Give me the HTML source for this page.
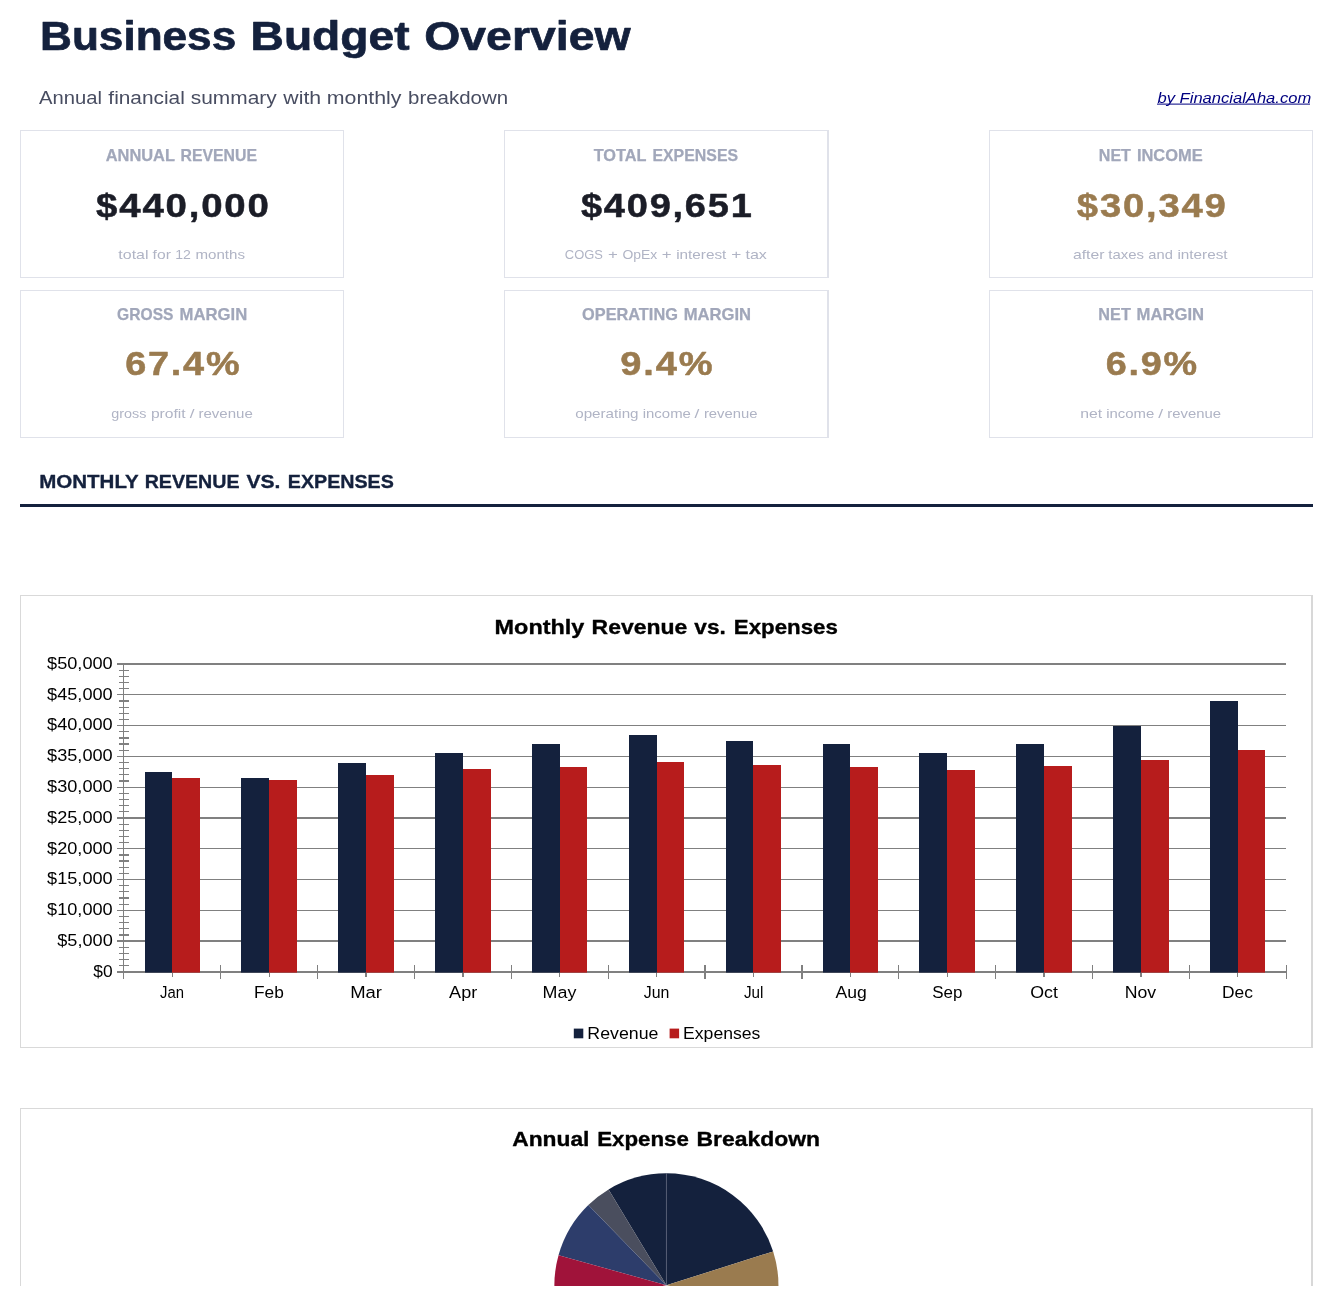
<!DOCTYPE html>
<html lang="en"><head><meta charset="utf-8"><title>Business Budget Overview</title>
<style>
html,body{margin:0;padding:0;background:#fff;}
body{width:1333px;height:1306px;overflow:hidden;position:relative;font-family:"Liberation Sans", sans-serif;}
.card{position:absolute;box-sizing:border-box;border:1px solid #e0e2ea;background:#fff;}
.card.thick{border-right-width:2px;}
.rule{position:absolute;left:20px;top:504px;width:1293px;height:3px;background:#14213d;}
.frame{position:absolute;box-sizing:border-box;border:1px solid #d9d9d9;border-right:2px solid #d8d8d8;background:#fff;}
svg{position:absolute;left:0;top:0;will-change:transform;}
svg text{font-family:"Liberation Sans", sans-serif;white-space:pre;}
</style></head><body>
<div class="card" style="left:20px;top:130px;width:324px;height:148px"></div>
<div class="card thick" style="left:504px;top:130px;width:325px;height:148px"></div>
<div class="card" style="left:989px;top:130px;width:324px;height:148px"></div>
<div class="card" style="left:20px;top:290px;width:324px;height:148px"></div>
<div class="card thick" style="left:504px;top:290px;width:325px;height:148px"></div>
<div class="card" style="left:989px;top:290px;width:324px;height:148px"></div>
<div class="rule"></div>
<div class="frame" style="left:20px;top:595px;width:1293px;height:453px"></div>
<div class="frame" style="left:20px;top:1108px;width:1293px;height:178px;border-bottom:none"></div>
<svg width="1333" height="1306" viewBox="0 0 1333 1306">
<g fill="#808080" shape-rendering="crispEdges">
<rect x="117" y="663" width="1169" height="2"/>
<rect x="119" y="670" width="10" height="1"/>
<rect x="119" y="676" width="10" height="1"/>
<rect x="119" y="682" width="10" height="1"/>
<rect x="119" y="688" width="10" height="1"/>
<rect x="117" y="694" width="1169" height="1"/>
<rect x="119" y="700" width="10" height="2"/>
<rect x="119" y="707" width="10" height="1"/>
<rect x="119" y="713" width="10" height="1"/>
<rect x="119" y="719" width="10" height="1"/>
<rect x="117" y="725" width="1169" height="1"/>
<rect x="119" y="731" width="10" height="1"/>
<rect x="119" y="737" width="10" height="2"/>
<rect x="119" y="743" width="10" height="2"/>
<rect x="119" y="750" width="10" height="1"/>
<rect x="117" y="756" width="1169" height="1"/>
<rect x="119" y="762" width="10" height="1"/>
<rect x="119" y="768" width="10" height="1"/>
<rect x="119" y="774" width="10" height="1"/>
<rect x="119" y="780" width="10" height="2"/>
<rect x="117" y="787" width="1169" height="1"/>
<rect x="119" y="793" width="10" height="1"/>
<rect x="119" y="799" width="10" height="1"/>
<rect x="119" y="805" width="10" height="1"/>
<rect x="119" y="811" width="10" height="1"/>
<rect x="117" y="817" width="1169" height="2"/>
<rect x="119" y="824" width="10" height="1"/>
<rect x="119" y="830" width="10" height="1"/>
<rect x="119" y="836" width="10" height="1"/>
<rect x="119" y="842" width="10" height="1"/>
<rect x="117" y="848" width="1169" height="1"/>
<rect x="119" y="854" width="10" height="2"/>
<rect x="119" y="860" width="10" height="2"/>
<rect x="119" y="867" width="10" height="1"/>
<rect x="119" y="873" width="10" height="1"/>
<rect x="117" y="879" width="1169" height="1"/>
<rect x="119" y="885" width="10" height="1"/>
<rect x="119" y="891" width="10" height="1"/>
<rect x="119" y="897" width="10" height="2"/>
<rect x="119" y="904" width="10" height="1"/>
<rect x="117" y="910" width="1169" height="1"/>
<rect x="119" y="916" width="10" height="1"/>
<rect x="119" y="922" width="10" height="1"/>
<rect x="119" y="928" width="10" height="1"/>
<rect x="119" y="934" width="10" height="2"/>
<rect x="117" y="940" width="1169" height="2"/>
<rect x="119" y="947" width="10" height="1"/>
<rect x="119" y="953" width="10" height="1"/>
<rect x="119" y="959" width="10" height="1"/>
<rect x="119" y="965" width="10" height="1"/>
<rect x="117" y="971" width="1169" height="2"/>
<rect x="123" y="663" width="1" height="316"/>
<rect x="220" y="965" width="1" height="14"/>
<rect x="317" y="965" width="1" height="14"/>
<rect x="414" y="965" width="1" height="14"/>
<rect x="511" y="965" width="1" height="14"/>
<rect x="608" y="965" width="1" height="14"/>
<rect x="704" y="965" width="2" height="14"/>
<rect x="801" y="965" width="2" height="14"/>
<rect x="898" y="965" width="1" height="14"/>
<rect x="995" y="965" width="1" height="14"/>
<rect x="1092" y="965" width="1" height="14"/>
<rect x="1189" y="965" width="1" height="14"/>
<rect x="1286" y="965" width="1" height="14"/>
<rect x="172" y="973" width="1" height="4"/>
<rect x="269" y="973" width="1" height="4"/>
<rect x="365" y="973" width="2" height="4"/>
<rect x="462" y="973" width="2" height="4"/>
<rect x="559" y="973" width="1" height="4"/>
<rect x="656" y="973" width="1" height="4"/>
<rect x="753" y="973" width="1" height="4"/>
<rect x="850" y="973" width="1" height="4"/>
<rect x="947" y="973" width="1" height="4"/>
<rect x="1043" y="973" width="2" height="4"/>
<rect x="1140" y="973" width="2" height="4"/>
<rect x="1237" y="973" width="1" height="4"/>
</g>
<g>
<rect x="145" y="772" width="27" height="200.6" fill="#14213d"/>
<rect x="172" y="778" width="28" height="194.6" fill="#b71c1c"/>
<rect x="241" y="778" width="28" height="194.6" fill="#14213d"/>
<rect x="269" y="780" width="28" height="192.6" fill="#b71c1c"/>
<rect x="338" y="763" width="28" height="209.6" fill="#14213d"/>
<rect x="366" y="775" width="28" height="197.6" fill="#b71c1c"/>
<rect x="435" y="753" width="28" height="219.6" fill="#14213d"/>
<rect x="463" y="769" width="28" height="203.6" fill="#b71c1c"/>
<rect x="532" y="744" width="28" height="228.6" fill="#14213d"/>
<rect x="560" y="767" width="27" height="205.6" fill="#b71c1c"/>
<rect x="629" y="735" width="28" height="237.6" fill="#14213d"/>
<rect x="657" y="762" width="27" height="210.6" fill="#b71c1c"/>
<rect x="726" y="741" width="27" height="231.6" fill="#14213d"/>
<rect x="753" y="765" width="28" height="207.6" fill="#b71c1c"/>
<rect x="823" y="744" width="27" height="228.6" fill="#14213d"/>
<rect x="850" y="767" width="28" height="205.6" fill="#b71c1c"/>
<rect x="919" y="753" width="28" height="219.6" fill="#14213d"/>
<rect x="947" y="770" width="28" height="202.6" fill="#b71c1c"/>
<rect x="1016" y="744" width="28" height="228.6" fill="#14213d"/>
<rect x="1044" y="766" width="28" height="206.6" fill="#b71c1c"/>
<rect x="1113" y="726" width="28" height="246.6" fill="#14213d"/>
<rect x="1141" y="760" width="28" height="212.6" fill="#b71c1c"/>
<rect x="1210" y="701" width="28" height="271.6" fill="#14213d"/>
<rect x="1238" y="750" width="27" height="222.6" fill="#b71c1c"/>
</g>
<rect x="573.8" y="1028.6" width="9.5" height="9.7" fill="#14213d"/>
<rect x="669.6" y="1028.6" width="9.5" height="9.7" fill="#b71c1c"/>
<clipPath id="pc"><rect x="500" y="1150" width="340" height="136"/></clipPath><g clip-path="url(#pc)">
<path d="M666.4,1285.3 L666.40,1173.30 A112.0,112.0 0 0 1 773.16,1251.43 Z" fill="#14213d"/>
<path d="M666.4,1285.3 L773.16,1251.43 A112.0,112.0 0 0 1 776.70,1304.75 Z" fill="#9a7b4f"/>
<path d="M666.4,1285.3 L608.55,1189.40 A112.0,112.0 0 0 1 666.40,1173.30 Z" fill="#14213d"/>
<path d="M666.4,1285.3 L588.32,1205.01 A112.0,112.0 0 0 1 608.55,1189.40 Z" fill="#4a4e5e"/>
<path d="M666.4,1285.3 L558.53,1255.18 A112.0,112.0 0 0 1 588.32,1205.01 Z" fill="#2d3d6b"/>
<path d="M666.4,1285.3 L556.10,1304.75 A112.0,112.0 0 0 1 558.53,1255.18 Z" fill="#a0133a"/>
<line x1="666.4" y1="1285.3" x2="666.4" y2="1173.3" stroke="#5a6178" stroke-width="0.6"/>
</g>
<text x="40.05" y="49.80" font-size="41.0" font-weight="700" stroke="#14213d" stroke-width="0.7" stroke-linejoin="round" fill="#14213d" textLength="196.15" lengthAdjust="spacingAndGlyphs">Business</text>
<text x="250.58" y="49.80" font-size="41.0" font-weight="700" stroke="#14213d" stroke-width="0.7" stroke-linejoin="round" fill="#14213d" textLength="158.93" lengthAdjust="spacingAndGlyphs">Budget</text>
<text x="424.17" y="49.80" font-size="41.0" font-weight="700" stroke="#14213d" stroke-width="0.7" stroke-linejoin="round" fill="#14213d" textLength="206.44" lengthAdjust="spacingAndGlyphs">Overview</text>
<text x="39.13" y="103.80" font-size="19.1" fill="#484d61" textLength="62.90" lengthAdjust="spacingAndGlyphs">Annual</text>
<text x="108.37" y="103.80" font-size="19.1" fill="#484d61" textLength="76.46" lengthAdjust="spacingAndGlyphs">financial</text>
<text x="190.80" y="103.80" font-size="19.1" fill="#484d61" textLength="85.86" lengthAdjust="spacingAndGlyphs">summary</text>
<text x="283.33" y="103.80" font-size="19.1" fill="#484d61" textLength="37.84" lengthAdjust="spacingAndGlyphs">with</text>
<text x="326.84" y="103.80" font-size="19.1" fill="#484d61" textLength="74.67" lengthAdjust="spacingAndGlyphs">monthly</text>
<text x="408.05" y="103.80" font-size="19.1" fill="#484d61" textLength="100.03" lengthAdjust="spacingAndGlyphs">breakdown</text>
<text x="1157.51" y="102.70" font-size="15.5" font-style="italic" fill="#000080" textLength="153.70" lengthAdjust="spacingAndGlyphs">by FinancialAha.com</text>
<text x="105.67" y="160.70" font-size="15.7" font-weight="700" stroke="#a1a7ba" stroke-width="0.25" stroke-linejoin="round" fill="#a1a7ba" textLength="69.36" lengthAdjust="spacingAndGlyphs">ANNUAL</text>
<text x="180.46" y="160.70" font-size="15.7" font-weight="700" stroke="#a1a7ba" stroke-width="0.25" stroke-linejoin="round" fill="#a1a7ba" textLength="76.49" lengthAdjust="spacingAndGlyphs">REVENUE</text>
<text x="96.07" y="216.50" font-size="34.0" font-weight="700" stroke="#1b1d27" stroke-width="0.5" stroke-linejoin="round" fill="#1b1d27" textLength="174.60" lengthAdjust="spacingAndGlyphs" letter-spacing="1.6">$440,000</text>
<text x="118.37" y="259.00" font-size="13.4" fill="#b0b4c5" textLength="30.14" lengthAdjust="spacingAndGlyphs">total</text>
<text x="152.60" y="259.00" font-size="13.4" fill="#b0b4c5" textLength="18.27" lengthAdjust="spacingAndGlyphs">for</text>
<text x="175.29" y="259.00" font-size="13.4" fill="#b0b4c5" textLength="15.69" lengthAdjust="spacingAndGlyphs">12</text>
<text x="195.52" y="259.00" font-size="13.4" fill="#b0b4c5" textLength="49.49" lengthAdjust="spacingAndGlyphs">months</text>
<text x="593.67" y="160.70" font-size="15.7" font-weight="700" stroke="#a1a7ba" stroke-width="0.25" stroke-linejoin="round" fill="#a1a7ba" textLength="52.82" lengthAdjust="spacingAndGlyphs">TOTAL</text>
<text x="652.44" y="160.70" font-size="15.7" font-weight="700" stroke="#a1a7ba" stroke-width="0.25" stroke-linejoin="round" fill="#a1a7ba" textLength="85.63" lengthAdjust="spacingAndGlyphs">EXPENSES</text>
<text x="580.96" y="216.50" font-size="34.0" font-weight="700" stroke="#1b1d27" stroke-width="0.5" stroke-linejoin="round" fill="#1b1d27" textLength="172.59" lengthAdjust="spacingAndGlyphs" letter-spacing="1.6">$409,651</text>
<text x="564.86" y="259.00" font-size="13.4" fill="#b0b4c5" textLength="38.07" lengthAdjust="spacingAndGlyphs">COGS</text>
<text x="607.96" y="259.00" font-size="13.4" fill="#b0b4c5" textLength="9.85" lengthAdjust="spacingAndGlyphs">+</text>
<text x="622.44" y="259.00" font-size="13.4" fill="#b0b4c5" textLength="34.81" lengthAdjust="spacingAndGlyphs">OpEx</text>
<text x="661.82" y="259.00" font-size="13.4" fill="#b0b4c5" textLength="9.86" lengthAdjust="spacingAndGlyphs">+</text>
<text x="676.18" y="259.00" font-size="13.4" fill="#b0b4c5" textLength="50.20" lengthAdjust="spacingAndGlyphs">interest</text>
<text x="731.20" y="259.00" font-size="13.4" fill="#b0b4c5" textLength="10.06" lengthAdjust="spacingAndGlyphs">+</text>
<text x="745.45" y="259.00" font-size="13.4" fill="#b0b4c5" textLength="21.49" lengthAdjust="spacingAndGlyphs">tax</text>
<text x="1098.83" y="160.70" font-size="15.7" font-weight="700" stroke="#a1a7ba" stroke-width="0.25" stroke-linejoin="round" fill="#a1a7ba" textLength="32.10" lengthAdjust="spacingAndGlyphs">NET</text>
<text x="1136.90" y="160.70" font-size="15.7" font-weight="700" stroke="#a1a7ba" stroke-width="0.25" stroke-linejoin="round" fill="#a1a7ba" textLength="65.83" lengthAdjust="spacingAndGlyphs">INCOME</text>
<text x="1076.89" y="216.50" font-size="34.0" font-weight="700" stroke="#9a7b4f" stroke-width="0.5" stroke-linejoin="round" fill="#9a7b4f" textLength="150.78" lengthAdjust="spacingAndGlyphs" letter-spacing="1.6">$30,349</text>
<text x="1072.97" y="259.00" font-size="13.4" fill="#b0b4c5" textLength="31.50" lengthAdjust="spacingAndGlyphs">after</text>
<text x="1108.29" y="259.00" font-size="13.4" fill="#b0b4c5" textLength="35.67" lengthAdjust="spacingAndGlyphs">taxes</text>
<text x="1148.38" y="259.00" font-size="13.4" fill="#b0b4c5" textLength="24.45" lengthAdjust="spacingAndGlyphs">and</text>
<text x="1177.47" y="259.00" font-size="13.4" fill="#b0b4c5" textLength="50.14" lengthAdjust="spacingAndGlyphs">interest</text>
<text x="117.11" y="319.50" font-size="15.7" font-weight="700" stroke="#a1a7ba" stroke-width="0.25" stroke-linejoin="round" fill="#a1a7ba" textLength="56.34" lengthAdjust="spacingAndGlyphs">GROSS</text>
<text x="179.59" y="319.50" font-size="15.7" font-weight="700" stroke="#a1a7ba" stroke-width="0.25" stroke-linejoin="round" fill="#a1a7ba" textLength="67.66" lengthAdjust="spacingAndGlyphs">MARGIN</text>
<text x="125.17" y="375.00" font-size="34.0" font-weight="700" stroke="#9a7b4f" stroke-width="0.5" stroke-linejoin="round" fill="#9a7b4f" textLength="116.15" lengthAdjust="spacingAndGlyphs" letter-spacing="1.6">67.4%</text>
<text x="111.21" y="417.60" font-size="13.4" fill="#b0b4c5" textLength="35.12" lengthAdjust="spacingAndGlyphs">gross</text>
<text x="150.93" y="417.60" font-size="13.4" fill="#b0b4c5" textLength="34.75" lengthAdjust="spacingAndGlyphs">profit</text>
<text x="189.66" y="417.60" font-size="13.4" fill="#b0b4c5" textLength="4.75" lengthAdjust="spacingAndGlyphs">/</text>
<text x="198.44" y="417.60" font-size="13.4" fill="#b0b4c5" textLength="54.38" lengthAdjust="spacingAndGlyphs">revenue</text>
<text x="582.06" y="319.50" font-size="15.7" font-weight="700" stroke="#a1a7ba" stroke-width="0.25" stroke-linejoin="round" fill="#a1a7ba" textLength="95.83" lengthAdjust="spacingAndGlyphs">OPERATING</text>
<text x="683.67" y="319.50" font-size="15.7" font-weight="700" stroke="#a1a7ba" stroke-width="0.25" stroke-linejoin="round" fill="#a1a7ba" textLength="67.49" lengthAdjust="spacingAndGlyphs">MARGIN</text>
<text x="620.36" y="375.00" font-size="34.0" font-weight="700" stroke="#9a7b4f" stroke-width="0.5" stroke-linejoin="round" fill="#9a7b4f" textLength="93.90" lengthAdjust="spacingAndGlyphs" letter-spacing="1.6">9.4%</text>
<text x="575.24" y="417.60" font-size="13.4" fill="#b0b4c5" textLength="63.31" lengthAdjust="spacingAndGlyphs">operating</text>
<text x="642.75" y="417.60" font-size="13.4" fill="#b0b4c5" textLength="48.12" lengthAdjust="spacingAndGlyphs">income</text>
<text x="694.64" y="417.60" font-size="13.4" fill="#b0b4c5" textLength="4.86" lengthAdjust="spacingAndGlyphs">/</text>
<text x="703.91" y="417.60" font-size="13.4" fill="#b0b4c5" textLength="53.60" lengthAdjust="spacingAndGlyphs">revenue</text>
<text x="1098.36" y="319.50" font-size="15.7" font-weight="700" stroke="#a1a7ba" stroke-width="0.25" stroke-linejoin="round" fill="#a1a7ba" textLength="32.46" lengthAdjust="spacingAndGlyphs">NET</text>
<text x="1136.57" y="319.50" font-size="15.7" font-weight="700" stroke="#a1a7ba" stroke-width="0.25" stroke-linejoin="round" fill="#a1a7ba" textLength="67.52" lengthAdjust="spacingAndGlyphs">MARGIN</text>
<text x="1105.78" y="375.00" font-size="34.0" font-weight="700" stroke="#9a7b4f" stroke-width="0.5" stroke-linejoin="round" fill="#9a7b4f" textLength="93.24" lengthAdjust="spacingAndGlyphs" letter-spacing="1.6">6.9%</text>
<text x="1080.15" y="417.60" font-size="13.4" fill="#b0b4c5" textLength="21.98" lengthAdjust="spacingAndGlyphs">net</text>
<text x="1106.22" y="417.60" font-size="13.4" fill="#b0b4c5" textLength="48.02" lengthAdjust="spacingAndGlyphs">income</text>
<text x="1158.26" y="417.60" font-size="13.4" fill="#b0b4c5" textLength="4.87" lengthAdjust="spacingAndGlyphs">/</text>
<text x="1167.39" y="417.60" font-size="13.4" fill="#b0b4c5" textLength="53.71" lengthAdjust="spacingAndGlyphs">revenue</text>
<text x="39.25" y="488.00" font-size="18.9" font-weight="700" stroke="#14213d" stroke-width="0.35" stroke-linejoin="round" fill="#14213d" textLength="99.45" lengthAdjust="spacingAndGlyphs">MONTHLY</text>
<text x="144.68" y="488.00" font-size="18.9" font-weight="700" stroke="#14213d" stroke-width="0.35" stroke-linejoin="round" fill="#14213d" textLength="94.86" lengthAdjust="spacingAndGlyphs">REVENUE</text>
<text x="246.54" y="488.00" font-size="18.9" font-weight="700" stroke="#14213d" stroke-width="0.35" stroke-linejoin="round" fill="#14213d" textLength="33.91" lengthAdjust="spacingAndGlyphs">VS.</text>
<text x="287.84" y="488.00" font-size="18.9" font-weight="700" stroke="#14213d" stroke-width="0.35" stroke-linejoin="round" fill="#14213d" textLength="106.03" lengthAdjust="spacingAndGlyphs">EXPENSES</text>
<text x="494.57" y="634.00" font-size="20.5" font-weight="700" stroke="#000" stroke-width="0.35" stroke-linejoin="round" fill="#000" textLength="89.78" lengthAdjust="spacingAndGlyphs">Monthly</text>
<text x="591.56" y="634.00" font-size="20.5" font-weight="700" stroke="#000" stroke-width="0.35" stroke-linejoin="round" fill="#000" textLength="95.73" lengthAdjust="spacingAndGlyphs">Revenue</text>
<text x="694.33" y="634.00" font-size="20.5" font-weight="700" stroke="#000" stroke-width="0.35" stroke-linejoin="round" fill="#000" textLength="31.41" lengthAdjust="spacingAndGlyphs">vs.</text>
<text x="733.83" y="634.00" font-size="20.5" font-weight="700" stroke="#000" stroke-width="0.35" stroke-linejoin="round" fill="#000" textLength="103.98" lengthAdjust="spacingAndGlyphs">Expenses</text>
<text x="512.23" y="1146.20" font-size="20.5" font-weight="700" stroke="#000" stroke-width="0.35" stroke-linejoin="round" fill="#000" textLength="77.24" lengthAdjust="spacingAndGlyphs">Annual</text>
<text x="597.17" y="1146.20" font-size="20.5" font-weight="700" stroke="#000" stroke-width="0.35" stroke-linejoin="round" fill="#000" textLength="91.76" lengthAdjust="spacingAndGlyphs">Expense</text>
<text x="696.45" y="1146.20" font-size="20.5" font-weight="700" stroke="#000" stroke-width="0.35" stroke-linejoin="round" fill="#000" textLength="123.60" lengthAdjust="spacingAndGlyphs">Breakdown</text>
<text x="587.39" y="1038.60" font-size="16.9" fill="#000" textLength="71.04" lengthAdjust="spacingAndGlyphs">Revenue</text>
<text x="683.03" y="1038.60" font-size="16.9" fill="#000" textLength="77.40" lengthAdjust="spacingAndGlyphs">Expenses</text>
<text x="159.98" y="998.00" font-size="16.9" fill="#000" textLength="23.94" lengthAdjust="spacingAndGlyphs">Jan</text>
<text x="254.06" y="998.00" font-size="16.9" fill="#000" textLength="29.82" lengthAdjust="spacingAndGlyphs">Feb</text>
<text x="350.18" y="998.00" font-size="16.9" fill="#000" textLength="31.77" lengthAdjust="spacingAndGlyphs">Mar</text>
<text x="449.14" y="998.00" font-size="16.9" fill="#000" textLength="28.13" lengthAdjust="spacingAndGlyphs">Apr</text>
<text x="542.64" y="998.00" font-size="16.9" fill="#000" textLength="33.78" lengthAdjust="spacingAndGlyphs">May</text>
<text x="643.79" y="998.00" font-size="16.9" fill="#000" textLength="25.64" lengthAdjust="spacingAndGlyphs">Jun</text>
<text x="743.98" y="998.00" font-size="16.9" fill="#000" textLength="19.48" lengthAdjust="spacingAndGlyphs">Jul</text>
<text x="835.53" y="998.00" font-size="16.9" fill="#000" textLength="31.26" lengthAdjust="spacingAndGlyphs">Aug</text>
<text x="932.21" y="998.00" font-size="16.9" fill="#000" textLength="30.17" lengthAdjust="spacingAndGlyphs">Sep</text>
<text x="1030.21" y="998.00" font-size="16.9" fill="#000" textLength="27.66" lengthAdjust="spacingAndGlyphs">Oct</text>
<text x="1124.74" y="998.00" font-size="16.9" fill="#000" textLength="31.44" lengthAdjust="spacingAndGlyphs">Nov</text>
<text x="1222.09" y="998.00" font-size="16.9" fill="#000" textLength="30.90" lengthAdjust="spacingAndGlyphs">Dec</text>
<text x="93.25" y="976.70" font-size="17.1" fill="#000" textLength="19.32" lengthAdjust="spacingAndGlyphs">$0</text>
<text x="57.28" y="945.90" font-size="17.1" fill="#000" textLength="55.47" lengthAdjust="spacingAndGlyphs">$5,000</text>
<text x="47.07" y="915.10" font-size="17.1" fill="#000" textLength="65.61" lengthAdjust="spacingAndGlyphs">$10,000</text>
<text x="47.07" y="884.30" font-size="17.1" fill="#000" textLength="65.61" lengthAdjust="spacingAndGlyphs">$15,000</text>
<text x="47.07" y="853.50" font-size="17.1" fill="#000" textLength="65.61" lengthAdjust="spacingAndGlyphs">$20,000</text>
<text x="47.07" y="822.70" font-size="17.1" fill="#000" textLength="65.61" lengthAdjust="spacingAndGlyphs">$25,000</text>
<text x="47.07" y="791.90" font-size="17.1" fill="#000" textLength="65.61" lengthAdjust="spacingAndGlyphs">$30,000</text>
<text x="47.07" y="761.10" font-size="17.1" fill="#000" textLength="65.61" lengthAdjust="spacingAndGlyphs">$35,000</text>
<text x="47.07" y="730.30" font-size="17.1" fill="#000" textLength="65.61" lengthAdjust="spacingAndGlyphs">$40,000</text>
<text x="47.07" y="699.50" font-size="17.1" fill="#000" textLength="65.61" lengthAdjust="spacingAndGlyphs">$45,000</text>
<text x="47.07" y="668.70" font-size="17.1" fill="#000" textLength="65.61" lengthAdjust="spacingAndGlyphs">$50,000</text>
<rect x="1157" y="103.6" width="153" height="1" fill="#000080"/>
</svg>
</body></html>
